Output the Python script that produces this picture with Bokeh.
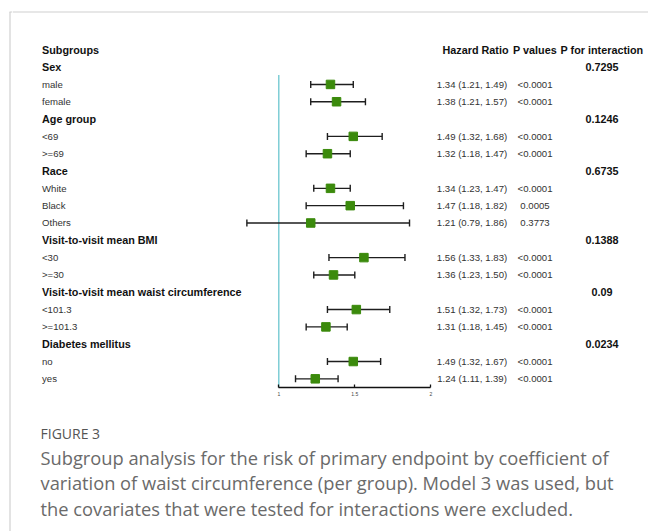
from bokeh.plotting import figure
from bokeh.models import Range1d, LinearAxis, FixedTicker, NumeralTickFormatter, ColumnDataSource
from bokeh.layouts import column, row as brow
from bokeh.embed import file_html
from bokeh.resources import INLINE
from bokeh.core.properties import value

# ---------------- data ----------------
groups = ["Sex", "Age group", "Race", "Visit-to-visit mean BMI",
          "Visit-to-visit mean waist circumference", "Diabetes mellitus"]
p_interaction = ["0.7295", "0.1246", "0.6735", "0.1388", "0.09", "0.0234"]
subgroups = ["male", "female", "<69", ">=69", "White", "Black", "Others",
             "<30", ">=30", "<101.3", ">=101.3", "no", "yes"]
subgroup_group = [0, 0, 1, 1, 2, 2, 2, 3, 3, 4, 4, 5, 5]
hr = [1.34, 1.38, 1.49, 1.32, 1.34, 1.47, 1.21, 1.56, 1.36, 1.51, 1.31, 1.49, 1.24]
hr_lower = [1.21, 1.21, 1.32, 1.18, 1.23, 1.18, 0.79, 1.33, 1.23, 1.32, 1.18, 1.32, 1.11]
hr_upper = [1.49, 1.57, 1.68, 1.47, 1.47, 1.82, 1.86, 1.83, 1.50, 1.73, 1.45, 1.67, 1.39]
p_values = ["<0.0001", "<0.0001", "<0.0001", "<0.0001", "<0.0001", "0.0005", "0.3773",
            "<0.0001", "<0.0001", "<0.0001", "<0.0001", "<0.0001", "<0.0001"]
x_ticks = [1, 1.5, 2]
caption_title = "FIGURE 3"
caption_lines = [
    "Subgroup analysis for the risk of primary endpoint by coefficient of",
    "variation of waist circumference (per group). Model 3 was used, but",
    "the covariates that were tested for interactions were excluded.",
]

# ---------------- rows ----------------
g_rows, g_text, g_p = [], [], []
s_rows, s_text = [], []
r = 1
for gi, g in enumerate(groups):
    g_rows.append(r); g_text.append(g); g_p.append(p_interaction[gi])
    r += 1
    for si, s in enumerate(subgroups):
        if subgroup_group[si] == gi:
            s_rows.append(r); s_text.append(s)
            r += 1

hr_text = [f"{h:.2f} ({l:.2f}, {u:.2f})" for h, l, u in zip(hr, hr_lower, hr_upper)]

src_s = ColumnDataSource(dict(y=s_rows, label=s_text, hr=hr, lo=hr_lower, hi=hr_upper,
                              hrt=hr_text, pv=p_values))
src_g = ColumnDataSource(dict(y=g_rows, label=g_text, pi=g_p))

FONT = value("Liberation Sans")
BOLD_SIZE = "10.8px"
REG_SIZE = "9.6px"
GREEN = "#3b8a0c"
TEAL = "#6cc6cf"
BORDER = "#d0d0d0"
W = 648
H = 531
L = 12  # width of the left strip carrying the panel border


def bare(fig):
    fig.outline_line_color = None
    fig.background_fill_color = "white"
    fig.border_fill_color = "white"
    return fig


# ---------------- left border strip ----------------
strip = bare(figure(width=L, height=H, x_range=Range1d(0, L), y_range=Range1d(H, 0),
                    output_backend="svg", toolbar_location=None, x_axis_type=None,
                    y_axis_type=None, min_border_left=0, min_border_right=0,
                    min_border_top=0, min_border_bottom=0))
strip.segment(x0=[9.5], x1=[9.5], y0=[11.5], y1=[H], line_color=BORDER, line_width=1.2)
strip.segment(x0=[9], x1=[L], y0=[11.5], y1=[11.5], line_color=BORDER, line_width=1.2)

# ---------------- forest figure ----------------
p = bare(figure(width=W - L, height=410, x_range=Range1d(L, W), y_range=Range1d(387, 0),
                output_backend="svg", toolbar_location=None,
                x_axis_type=None, y_axis_type=None,
                min_border_left=0, min_border_right=0, min_border_top=0, min_border_bottom=23))
hr0 = 1 - (278.3 - L) / 152.0
p.extra_x_ranges = {"hr": Range1d(hr0, hr0 + (W - L) / 152.0)}
p.extra_y_ranges = {"row": Range1d(19.5, -49.3 / 17.32)}

# top border of the panel
p.segment(x0=[L], x1=[W], y0=[11.5], y1=[11.5], line_color=BORDER, line_width=1.2)

# reference line at HR = 1
p.segment(x0=[1], x1=[1], y0=[1.45], y1=[19.5], x_range_name="hr", y_range_name="row",
          line_color=TEAL, line_width=1.3)

# CI lines and caps
p.segment(x0="lo", x1="hi", y0="y", y1="y", source=src_s, x_range_name="hr",
          y_range_name="row", line_color="#1e1e1e", line_width=1.4)
p.scatter(x="lo", y="y", source=src_s, marker="dash", angle=1.5708, size=7,
          line_color="#1e1e1e", line_width=1.4, x_range_name="hr", y_range_name="row")
p.scatter(x="hi", y="y", source=src_s, marker="dash", angle=1.5708, size=7,
          line_color="#1e1e1e", line_width=1.4, x_range_name="hr", y_range_name="row")
p.scatter(x="hr", y="y", source=src_s, marker="square", size=8.5,
          fill_color=GREEN, line_color=GREEN, x_range_name="hr", y_range_name="row")

# axis
ax = LinearAxis(x_range_name="hr", ticker=FixedTicker(ticks=x_ticks),
                formatter=NumeralTickFormatter(format="0.[0]"), bounds=(1, 2))
ax.axis_line_color = "#111111"
ax.axis_line_width = 1.5
ax.major_tick_line_color = "#111111"
ax.major_tick_line_width = 1.3
ax.major_tick_in = 3
ax.major_tick_out = 0
ax.minor_tick_line_color = None
ax.major_label_text_font_size = "5px"
ax.major_label_text_color = "#444444"
ax.major_label_standoff = 4
p.add_layout(ax, "below")

# header
p.text(x=[41.5], y=[0], text=["Subgroups"], y_range_name="row", text_font=FONT,
       text_font_size=BOLD_SIZE, text_font_style="bold", text_baseline="middle",
       text_align="left", text_color="#111111")
p.text(x=[475, 534.5, 601.5], y=[0, 0, 0], text=["Hazard Ratio", "P values", "P for interaction"],
       y_range_name="row", text_font=FONT, text_font_size=BOLD_SIZE, text_font_style="bold",
       text_baseline="middle", text_align="center", text_color="#111111")

# group rows
p.text(x=41.5, y="y", text="label", source=src_g, y_range_name="row", text_font=FONT,
       text_font_size=BOLD_SIZE, text_font_style="bold", text_baseline="middle",
       text_align="left", text_color="#111111")
p.text(x=601.5, y="y", text="pi", source=src_g, y_range_name="row", text_font=FONT,
       text_font_size=BOLD_SIZE, text_font_style="bold", text_baseline="middle",
       text_align="center", text_color="#111111")

# subgroup rows
p.text(x=41.5, y="y", text="label", source=src_s, y_range_name="row", text_font=FONT,
       text_font_size=REG_SIZE, text_baseline="middle", text_align="left", text_color="#333333")
p.text(x=471.5, y="y", text="hrt", source=src_s, y_range_name="row", text_font=FONT,
       text_font_size=REG_SIZE, text_baseline="middle", text_align="center", text_color="#333333")
p.text(x=534.5, y="y", text="pv", source=src_s, y_range_name="row", text_font=FONT,
       text_font_size=REG_SIZE, text_baseline="middle", text_align="center", text_color="#333333")

# ---------------- caption figure ----------------
q = bare(figure(width=W - L, height=H - 410, x_range=Range1d(L, W), y_range=Range1d(H, 410),
                output_backend="svg", toolbar_location=None, x_axis_type=None, y_axis_type=None,
                min_border_left=0, min_border_right=0, min_border_top=0, min_border_bottom=0))
q.text(x=[40], y=[432.5], text=[caption_title], text_font=value("Open Sans"),
       text_font_size="14px", text_baseline="middle", text_align="left",
       text_color="#555555")
q.text(x=[40, 40, 40], y=[456.5, 482, 507.5], text=caption_lines, text_font=value("Open Sans"),
       text_font_size="18.3px", text_baseline="middle", text_align="left",
       text_color="#6a6a6a")

layout = brow(strip, column(p, q, spacing=0), spacing=0)
open("out.html", "w").write(file_html(layout, INLINE))
